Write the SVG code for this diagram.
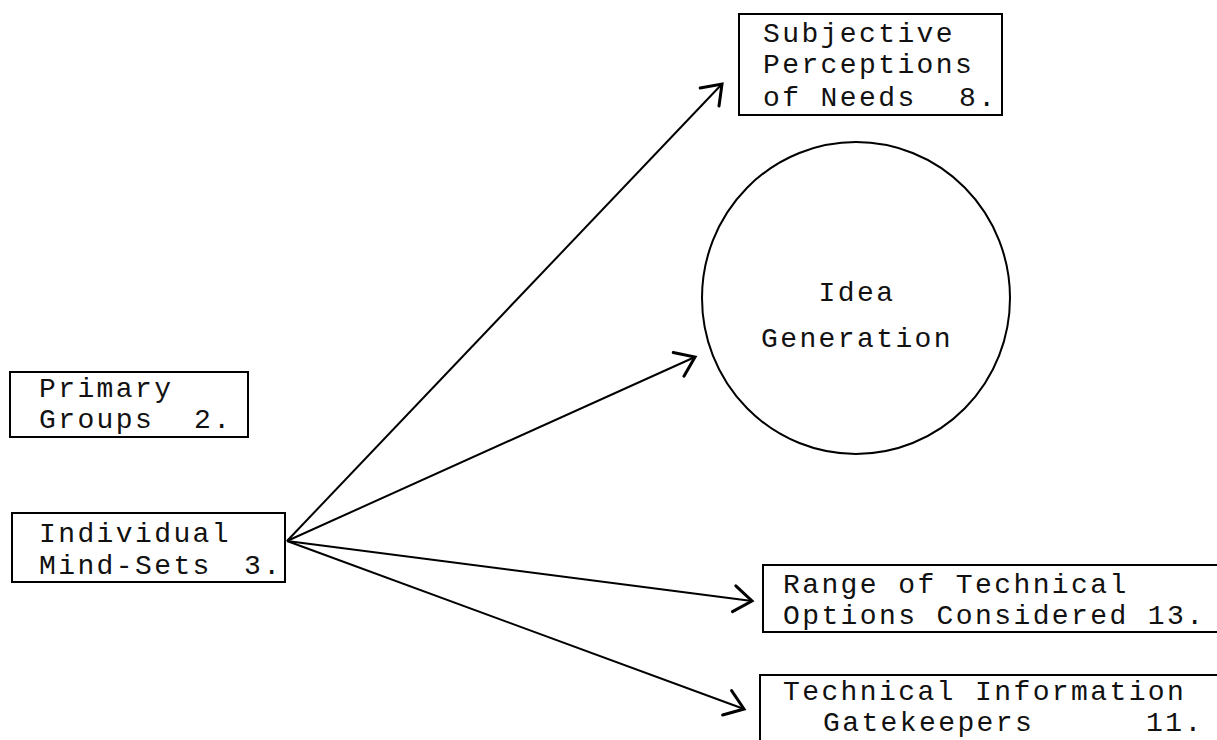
<svg xmlns="http://www.w3.org/2000/svg" width="1217" height="740" viewBox="0 0 1217 740">
  <style>
    .box { fill: none; stroke: #000; stroke-width: 2; }
    .label { font-family: "Courier New", "Liberation Mono", monospace; font-size: 28px; letter-spacing: 2.4px; fill: #111; }
    .edge { fill: none; stroke: #000; stroke-width: 2; marker-end: url(#chevron); }
  </style>
  <defs>
    <marker id="chevron" viewBox="-22 -16 26 32" refX="0" refY="0" markerWidth="26" markerHeight="32" markerUnits="userSpaceOnUse" orient="auto">
      <path d="M -18 -13 L 0 0 L -18 13" fill="none" stroke="#000" stroke-width="3" stroke-linecap="round" stroke-linejoin="miter"/>
    </marker>
  </defs>

  <rect width="1217" height="740" fill="#fff"/>

  <!-- connectors fan out from the right edge of "Individual Mind-Sets" -->
  <g id="connectors">
    <line class="edge" x1="287" y1="541" x2="722" y2="84"/>
    <line class="edge" x1="287" y1="541" x2="695" y2="357"/>
    <line class="edge" x1="287" y1="541" x2="752" y2="601"/>
    <line class="edge" x1="287" y1="541" x2="744" y2="709"/>
  </g>

  <g id="subjective-perceptions">
    <rect class="box" x="739" y="14" width="263" height="101"/>
    <text class="label" x="763" y="42">Subjective</text>
    <text class="label" x="763" y="73">Perceptions</text>
    <text class="label" x="763" y="106">of Needs<tspan x="959">8.</tspan></text>
  </g>

  <g id="idea-generation">
    <ellipse class="box" cx="856" cy="298" rx="154" ry="156"/>
    <text class="label" x="857" y="301" text-anchor="middle">Idea</text>
    <text class="label" x="857" y="347" text-anchor="middle">Generation</text>
  </g>

  <g id="primary-groups">
    <rect class="box" x="10" y="372" width="238" height="65"/>
    <text class="label" x="39" y="397">Primary</text>
    <text class="label" x="39" y="428">Groups<tspan x="194">2.</tspan></text>
  </g>

  <g id="individual-mind-sets">
    <rect class="box" x="12" y="513" width="273" height="69"/>
    <text class="label" x="39" y="542">Individual</text>
    <text class="label" x="39" y="574">Mind-Sets<tspan x="244">3.</tspan></text>
  </g>

  <g id="technical-options">
    <rect class="box" x="763" y="565" width="480" height="67"/>
    <text class="label" x="783" y="593">Range of Technical</text>
    <text class="label" x="783" y="624">Options Considered 13.</text>
  </g>

  <g id="information-gatekeepers">
    <rect class="box" x="760" y="675" width="480" height="90"/>
    <text class="label" x="783" y="700">Technical Information</text>
    <text class="label" x="823" y="731">Gatekeepers<tspan x="1146">11.</tspan></text>
  </g>
</svg>
